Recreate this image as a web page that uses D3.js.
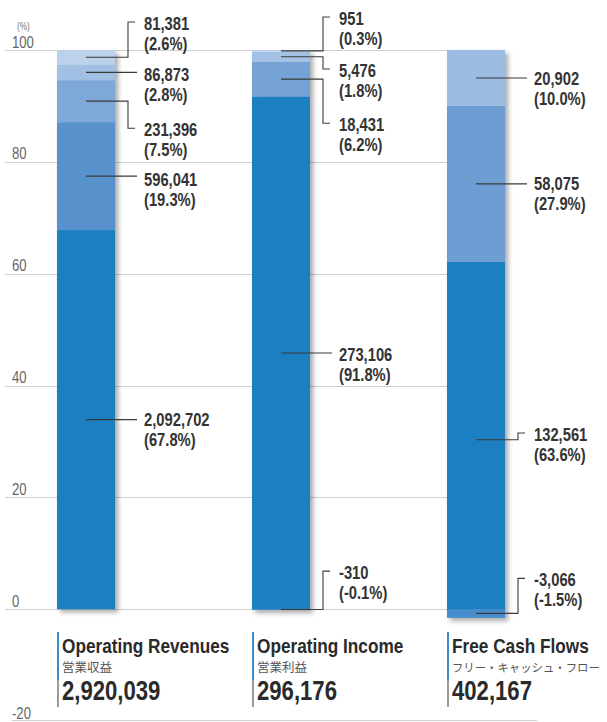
<!DOCTYPE html>
<html>
<head>
<meta charset="utf-8">
<script src="https://cdn.jsdelivr.net/npm/d3@7/dist/d3.min.js"></script>
<style>
  html, body { margin: 0; padding: 0; background: #fff; }
  svg { display: block; }
</style>
</head>
<body>
<svg id="chart" width="607" height="722"></svg>
<script>
// ---------------- DATA ----------------
const categories = ["Operating Revenues", "Operating Income", "Free Cash Flows"];
const categoriesJa = ["営業収益", "営業利益", "フリー・キャッシュ・フロー"];
const totals = ["2,920,039", "296,176", "402,167"];

// segments stacked from bottom to top (percent of total)
const revenuePct = [67.8, 19.3, 7.5, 2.8, 2.6];
const revenueAmt = ["2,092,702", "596,041", "231,396", "86,873", "81,381"];
const incomePct = [91.8, 6.2, 1.8, 0.3];
const incomeAmt = ["273,106", "18,431", "5,476", "951"];
const fcfPct = [63.6, 27.9, 10.0];
const fcfAmt = ["132,561", "58,075", "20,902"];

// negative parts (percent, amount)
const negPct = [0, -0.1, -1.5];
const negAmt = [null, "-310", "-3,066"];

// label anchor levels (in % units) for each segment label, same order as segments
const revenueLabelAt = [34.2, 77.1, 86.0, 95.9, 105.0];
const incomeLabelAt = [45.8, 86.9, 96.6, 105.9];
const fcfLabelAt = [31.5, 76.4, 95.2];
const negLabelAt = [null, 6.8, 5.5];

const yTicks = [-20, 0, 20, 40, 60, 80, 100];

// ---------------- STYLE ----------------
const palettes = [
  ["#1c7fc2", "#5892cd", "#7ea8d8", "#a2c0e3", "#bcd2eb"],
  ["#1c7fc2", "#76a3d6", "#a3c1e4", "#b6cfea"],
  ["#1c7fc2", "#6e9dd3", "#9dbce2"]
];
const negColor = "#4d8ecf";
const FONT = '"Liberation Sans", Arial, sans-serif';
const SQUEEZE = 0.82;

const svg = d3.select("#chart");

const y = d3.scaleLinear().domain([-20, 100]).range([721, 50]);
const x = d3.scaleBand().domain(categories).range([57, 505]).paddingInner(0.7026).paddingOuter(0);

// condensed text helper: render in Liberation Sans and compress horizontally
function condText(parent, tx, ty, str, size, weight, fill) {
  return parent.append("text")
    .attr("transform", `translate(${tx},${ty}) scale(${SQUEEZE},1)`)
    .style("font-family", FONT).style("font-size", size + "px")
    .style("font-weight", weight).attr("fill", fill).text(str);
}

const defs = svg.append("defs");
const f = defs.append("filter").attr("id", "shadow").attr("x", "-20%").attr("y", "-5%").attr("width", "160%").attr("height", "115%");
f.append("feDropShadow").attr("dx", 3).attr("dy", 3).attr("stdDeviation", 2.5)
  .attr("flood-color", "#000").attr("flood-opacity", 0.35);

// gridlines
const gridRight = x(categories[2]) + x.bandwidth();
svg.append("g").selectAll("line").data(yTicks.filter(t => t > -20)).join("line")
  .attr("x1", 5).attr("x2", gridRight)
  .attr("y1", d => Math.round(y(d)) + 0.5).attr("y2", d => Math.round(y(d)) + 0.5)
  .attr("stroke", "#cfcfcf").attr("stroke-width", 1);
svg.append("line").attr("x1", 12).attr("x2", 537)
  .attr("y1", Math.round(y(-20)) - 0.5).attr("y2", Math.round(y(-20)) - 0.5)
  .attr("stroke", "#cfcfcf");

// axis labels (d3 axis for positions, condensed text)
const axis = d3.axisRight(y).tickValues(yTicks).tickSize(0).tickPadding(0).tickFormat(d => String(d));
const ag = svg.append("g").attr("transform", "translate(12,0)").call(axis);
ag.select(".domain").remove();
ag.selectAll("text")
  .attr("x", 0).attr("dy", "-3px")
  .attr("transform", `scale(${SQUEEZE},1)`)
  .style("font-family", FONT).style("font-size", "16px").attr("fill", "#666");
condText(svg, 17, 30, "(%)", 10, "normal", "#777");

// build stacks
const segData = [
  { pct: revenuePct, amt: revenueAmt, at: revenueLabelAt },
  { pct: incomePct, amt: incomeAmt, at: incomeLabelAt },
  { pct: fcfPct, amt: fcfAmt, at: fcfLabelAt }
];

const barsG = svg.append("g");
const labelsG = svg.append("g");

segData.forEach((s, bi) => {
  const cat = categories[bi];
  const x0 = x(cat), bw = x.bandwidth();
  const cx = x0 + bw / 2;
  let base = negPct[bi];
  const segs = s.pct.map((p, i) => {
    const o = { y0: base, y1: base + p, p, amt: s.amt[i], at: s.at[i], color: palettes[bi][i] };
    base += p;
    return o;
  });
  const g = barsG.append("g").attr("filter", "url(#shadow)");
  g.selectAll("rect.seg").data(segs).join("rect")
    .attr("class", "seg")
    .attr("x", x0).attr("width", bw)
    .attr("y", d => y(d.y1)).attr("height", d => y(d.y0) - y(d.y1))
    .attr("fill", d => d.color);
  const all = segs.slice();
  if (negPct[bi] < 0) {
    g.append("rect").attr("x", x0).attr("width", bw)
      .attr("y", y(0)).attr("height", y(negPct[bi]) - y(0))
      .attr("fill", negColor).attr("opacity", 0.9);
    all.push({ y0: negPct[bi], y1: 0, p: negPct[bi], amt: negAmt[bi], at: negLabelAt[bi] });
  }

  // labels
  const elbowX = x0 + bw + 13;
  const textX = x0 + bw + 29;
  all.forEach(d => {
    const sy = y((d.y0 + d.y1) / 2);
    const ly = y(d.at);
    let path;
    if (Math.abs(sy - ly) < 3) {
      path = `M${cx},${sy}H${textX - 7}`;
    } else {
      path = `M${cx},${sy}H${elbowX}V${ly}H${textX - 9}`;
    }
    labelsG.append("path").attr("d", path).attr("fill", "none")
      .attr("stroke", "#3a3a3a").attr("stroke-width", 1.1);
    condText(labelsG, textX, ly + 8, d.amt, 18, "bold", "#333");
    condText(labelsG, textX, ly + 28, "(" + d.p.toFixed(1) + "%)", 18, "bold", "#333");
  });

  // category block
  const cg = svg.append("g");
  cg.append("line").attr("x1", x0 + 1).attr("x2", x0 + 1).attr("y1", 632).attr("y2", 680)
    .attr("stroke", "#3a8ccc").attr("stroke-width", 2);
  cg.append("line").attr("x1", x0 + 1).attr("x2", x0 + 1).attr("y1", 680).attr("y2", 707)
    .attr("stroke", "#9a9a9a").attr("stroke-width", 2);
  condText(cg, x0 + 5, 653, cat, 21, "bold", "#2a2a2a");
  const jt = cg.append("text").attr("x", x0 + 5).attr("y", 672)
    .style("font-family", '"Noto Sans CJK JP", sans-serif')
    .style("font-size", "12.5px").attr("fill", "#555").text(categoriesJa[bi]);
  const nat = jt.node().getComputedTextLength();
  if (nat > 148) jt.style("font-size", (12.5 * 148 / nat).toFixed(2) + "px");
  condText(cg, x0 + 5, 700, totals[bi], 27, "bold", "#2a2a2a");
});
</script>
</body>
</html>
